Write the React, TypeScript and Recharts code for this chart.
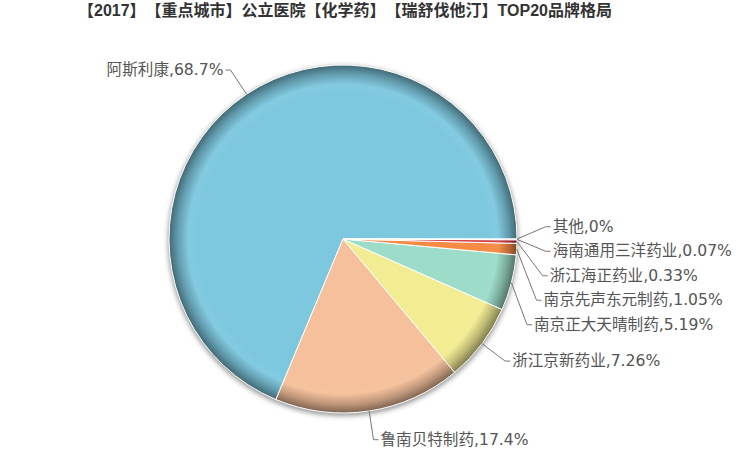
import { PieChart, Pie, Cell } from "recharts"

const brands = [
  "阿斯利康",
  "鲁南贝特制药",
  "浙江京新药业",
  "南京正大天晴制药",
  "南京先声东元制药",
  "浙江海正药业",
  "海南通用三洋药业",
  "其他",
]
const shares = [68.7, 17.4, 7.26, 5.19, 1.05, 0.33, 0.07, 0]
const shareLabels = ["68.7%", "17.4%", "7.26%", "5.19%", "1.05%", "0.33%", "0.07%", "0%"]
const colors = ["#7ec8df", "#f5c09b", "#f2ec93", "#9cdcc8", "#f68b45", "#d2404a", "#ee9aa6", "#b9b9b9"]

const title = "【2017】【重点城市】公立医院【化学药】【瑞舒伐他汀】TOP20品牌格局"

const data = brands.map((name, i) => ({ name, value: shares[i] }))

const CX = 343
const CY = 239
const R = 174
const R2 = 203 // where the label lines bend
const GAP = 24.5 // min vertical distance between labels
const RAD = Math.PI / 180

function shade(hex: string, f: number) {
  const n = parseInt(hex.slice(1), 16)
  const c = [(n >> 16) & 255, (n >> 8) & 255, n & 255].map((v) =>
    Math.max(0, Math.min(255, Math.round(f > 1 ? v + (255 - v) * (f - 1) : v * f)))
  )
  return `rgb(${c.join(",")})`
}

// elbow points for the label lines, spread so the small slices don't collide
type Spot = { i: number; side: number; y0: number; y: number; x: number }
function layoutLabels(): Spot[] {
  const total = shares.reduce((a, b) => a + b, 0)
  let acc = 0
  const spots: Spot[] = shares.map((v, i) => {
    const a = (v / total) * 360
    const mid = acc + a / 2
    acc += a
    const y0 = CY - R2 * Math.sin(mid * RAD)
    const side = Math.cos(mid * RAD) >= 0 ? 1 : -1
    return { i, side, y0, y: y0, x: CX + R2 * Math.cos(mid * RAD) }
  })
  for (const side of [1, -1]) {
    const items = spots.filter((s) => s.side === side).sort((a, b) => a.y0 - b.y0)
    let last = -Infinity
    items.forEach((it) => {
      it.y = Math.max(it.y0, last + GAP)
      last = it.y
    })
    // lift each crowded run a half row (but not below where a label would sit anyway)
    let i = 0
    while (i < items.length) {
      let j = i
      while (j + 1 < items.length && items[j + 1].y > items[j + 1].y0 + 0.01) j++
      if (j > i) {
        const room = i > 0 ? items[i].y0 - (items[i - 1].y + GAP) : Infinity
        const lift = Math.min(GAP / 2, room)
        items[i].y -= lift
        for (let k = i + 1; k <= j; k++) items[k].y = Math.max(items[k].y - lift, items[k].y0)
      }
      i = j + 1
    }
    items.forEach((it) => {
      const dy = it.y - CY
      if (Math.abs(dy) < R2) it.x = CX + side * Math.sqrt(R2 * R2 - dy * dy)
    })
  }
  return spots
}

const spots = layoutLabels()

function renderLabel(props: any) {
  const { cx, cy, outerRadius, midAngle, index } = props
  const s = spots[index]
  if (!s) return null
  const sx = cx + outerRadius * Math.cos(-midAngle * RAD)
  const sy = cy + outerRadius * Math.sin(-midAngle * RAD)
  const ex = s.x + s.side * 5
  return (
    <g key={`lbl-${index}`}>
      <polyline
        points={`${sx},${sy} ${s.x},${s.y} ${ex},${s.y}`}
        fill="none"
        stroke="#777"
        strokeWidth={1}
      />
      <text
        x={ex + s.side * 2}
        y={s.y}
        textAnchor={s.side > 0 ? "start" : "end"}
        dominantBaseline="central"
        fontSize={15.6}
        fontFamily="'DejaVu Sans', 'Noto Sans CJK SC', sans-serif"
        fill="#555"
      >
        {`${brands[index]},${shareLabels[index]}`}
      </text>
    </g>
  )
}

export default function App() {
  return (
    <div style={{ position: "absolute", left: 0, top: 0, width: 736, height: 455, background: "#fff" }}>
      <div
        style={
          {
            position: "absolute",
            left: 78,
            top: 0,
            fontSize: 16,
            fontWeight: "bold",
            color: "#333",
            fontFamily: "'Liberation Sans', 'Noto Sans CJK SC', sans-serif",
            whiteSpace: "nowrap",
            lineHeight: "22px",
            textSpacingTrim: "space-all",
          } as any
        }
      >
        {title}
      </div>
      <PieChart width={736} height={455} margin={{ top: 0, right: 0, bottom: 0, left: 0 }}>
        <defs>
          <filter id="pieShadow" x="-20%" y="-20%" width="140%" height="140%">
            <feGaussianBlur stdDeviation="2.5" />
          </filter>
          {colors.map((c, i) => (
            <radialGradient key={c} id={`slice${i}`} gradientUnits="userSpaceOnUse" cx={CX} cy={CY} r={R}>
              <stop offset="0" stopColor={c} />
              <stop offset="0.84" stopColor={c} />
              <stop offset="0.89" stopColor={shade(c, 1.04)} />
              <stop offset="0.95" stopColor={shade(c, 0.78)} />
              <stop offset="1" stopColor={shade(c, 0.52)} />
            </radialGradient>
          ))}
        </defs>
        <Pie
          data={[{ value: 1 }]}
          dataKey="value"
          cx={CX}
          cy={CY + 2}
          outerRadius={R + 1}
          startAngle={0}
          endAngle={360}
          stroke="none"
          isAnimationActive={false}
        >
          <Cell fill="rgba(0,0,0,0.4)" filter="url(#pieShadow)" />
        </Pie>
        <Pie
          data={data}
          dataKey="value"
          nameKey="name"
          cx={CX}
          cy={CY}
          outerRadius={R}
          startAngle={0}
          endAngle={360}
          stroke="#fff"
          strokeWidth={1}
          label={renderLabel}
          labelLine={false}
          isAnimationActive={false}
        >
          {data.map((d, i) => (
            <Cell key={d.name} fill={`url(#slice${i})`} />
          ))}
        </Pie>
      </PieChart>
    </div>
  )
}
